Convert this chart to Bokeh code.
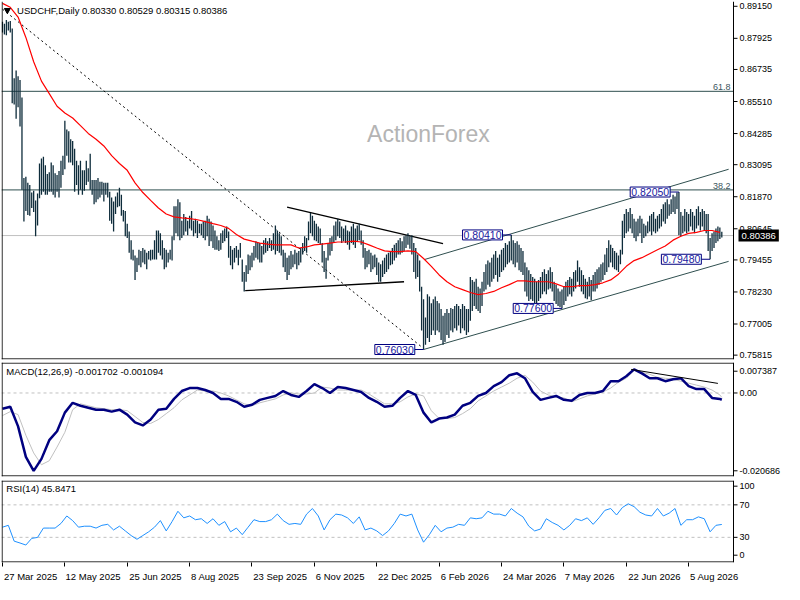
from bokeh.plotting import figure
from bokeh.models import Range1d, FixedTicker, Label, Span
from bokeh.layouts import column
from bokeh.embed import file_html
from bokeh.resources import INLINE
from bokeh.core.properties import value

# ---------------- data ----------------
SYMBOL_TEXT = "USDCHF,Daily  0.80330 0.80529 0.80315 0.80386"
LAST_CLOSE = 0.80386

HIGH = [
    .8856, .8848, .8863, .8856, .8859, .8830, .8640, .8670, .8648, .8633,
    .8566, .8259, .8263, .8240, .8232, .8203, .8210, .8173, .8199, .8314,
    .8333, .8340, .8307, .8274, .8281, .8318, .8307, .8277, .8270, .8285,
    .8325, .8344, .8477, .8444, .8437, .8407, .8400, .8370, .8325, .8307,
    .8325, .8288, .8288, .8325, .8296, .8351, .8251, .8251, .8251, .8259,
    .8244, .8244, .8240, .8240, .8240, .8206, .8184, .8169, .8188, .8203,
    .8221, .8195, .8136, .8132, .8084, .8054, .8021, .7984, .7962, .7954,
    .7984, .7980, .7991, .7984, .7973, .7980, .7984, .7984, .8021, .8058,
    .8058, .8047, .8021, .7991, .7984, .7973, .7984, .8036, .8151, .8151,
    .8177, .8166, .8095, .8121, .8110, .8095, .8114, .8132, .8095, .8103,
    .8095, .8084, .8084, .8092, .8095, .8114, .8103, .8092, .8077, .8058,
    .8036, .8021, .8047, .8058, .8066, .8073, .8054, .7999, .7984, .7991,
    .7999, .7984, .8010, .7947, .7899, .7925, .7966, .7962, .7973, .7999,
    .8017, .8010, .8010, .7999, .8021, .8029, .8017, .8029, .8021, .8047,
    .8077, .8058, .8047, .8036, .7984, .7973, .7954, .7962, .7980, .7966,
    .7984, .7973, .7980, .7991, .8010, .8036, .8029, .8092, .8125, .8114,
    .8095, .8084, .8073, .8066, .8010, .7980, .7954, .8010, .8029, .8036,
    .8077, .8092, .8103, .8092, .8073, .8066, .8077, .8058, .8054, .8073,
    .8084, .8066, .8077, .8084, .8058, .8021, .7991, .7980, .7984, .7973,
    .7962, .7966, .7954, .7936, .7929, .7943, .7954, .7966, .7973, .7980,
    .7991, .8003, .8010, .8021, .8029, .8017, .8036, .8040, .8047, .8036,
    .8040, .8010, .7991, .7966, .7943, .7843, .7795, .7725, .7814, .7806,
    .7780, .7795, .7806, .7788, .7780, .7758, .7732, .7743, .7758, .7743,
    .7762, .7758, .7769, .7777, .7769, .7758, .7777, .7769, .7758, .7758,
    .7880, .7869, .7862, .7873, .7843, .7836, .7862, .7899, .7929, .7943,
    .7936, .7954, .7966, .7980, .7954, .7966, .7984, .7991, .8010, .8003,
    .8017, .8041, .8021, .8010, .8017, .8003, .7991, .7980, .7936, .7917,
    .7906, .7892, .7880, .7873, .7862, .7869, .7880, .7899, .7910, .7892,
    .7906, .7917, .7899, .7862, .7851, .7836, .7825, .7832, .7843, .7862,
    .7869, .7880, .7873, .7899, .7906, .7943, .7917, .7906, .7888, .7873,
    .7862, .7880, .7869, .7888, .7899, .7910, .7917, .7929, .7936, .7966,
    .7991, .8021, .8003, .7991, .7980, .7973, .7962, .7984, .8095, .8121,
    .8140, .8129, .8144, .8121, .8103, .8092, .8103, .8114, .8103, .8084,
    .8077, .8092, .8114, .8121, .8129, .8103, .8114, .8121, .8140, .8158,
    .8166, .8177, .8158, .8177, .8195, .8188, .8203, .8205, .8129, .8114,
    .8140, .8129, .8121, .8140, .8129, .8114, .8140, .8151, .8129, .8140,
    .8132, .8121, .8121, .8029, .8047, .8054, .8066, .8073, .8069, .80529,
]

LOW = [
    .8815, .8807, .8804, .8822, .8815, .8544, .8540, .8485, .8529, .8455,
    .8214, .8092, .8132, .8117, .8114, .8144, .8129, .8036, .8077, .8181,
    .8195, .8206, .8195, .8195, .8206, .8206, .8195, .8184, .8206, .8184,
    .8221, .8270, .8292, .8344, .8318, .8318, .8307, .8206, .8232, .8195,
    .8214, .8195, .8210, .8232, .8244, .8214, .8195, .8158, .8166, .8177,
    .8184, .8195, .8169, .8195, .8184, .8095, .8084, .8054, .8121, .8147,
    .8151, .8114, .8092, .8036, .8029, .7973, .7947, .7943, .7869, .7899,
    .7925, .7917, .7936, .7929, .7910, .7947, .7943, .7947, .7947, .7947,
    .7973, .7962, .7947, .7910, .7917, .7936, .7947, .7943, .8021, .8047,
    .8036, .8021, .8029, .8040, .8054, .8040, .8066, .8058, .8036, .8047,
    .8029, .8047, .8040, .8029, .8021, .8036, .7999, .8017, .7991, .7984,
    .7984, .7980, .7984, .8010, .8017, .8029, .7954, .7925, .7910, .7936,
    .7954, .7925, .7954, .7862, .7825, .7862, .7892, .7906, .7917, .7943,
    .7954, .7947, .7936, .7936, .7966, .7973, .7980, .7991, .7980, .7984,
    .7966, .7980, .7973, .7962, .7917, .7899, .7869, .7888, .7910, .7917,
    .7929, .7910, .7925, .7936, .7966, .7980, .7973, .8021, .8047, .8036,
    .8021, .8017, .8010, .8003, .7936, .7899, .7873, .7943, .7962, .7980,
    .8010, .8021, .8036, .8029, .8010, .8017, .8010, .8003, .7984, .8010,
    .8003, .7991, .8017, .8021, .8003, .7954, .7910, .7917, .7929, .7899,
    .7910, .7917, .7888, .7862, .7862, .7880, .7892, .7899, .7910, .7925,
    .7929, .7943, .7954, .7966, .7966, .7973, .7980, .7991, .8003, .7988,
    .7966, .7899, .7873, .7880, .7825, .7676, .7603, .7621, .7647, .7632,
    .7658, .7676, .7658, .7676, .7669, .7639, .7621, .7632, .7658, .7647,
    .7676, .7669, .7684, .7676, .7695, .7665, .7684, .7676, .7658, .7669,
    .7713, .7750, .7769, .7758, .7750, .7743, .7769, .7825, .7832, .7851,
    .7843, .7862, .7873, .7888, .7862, .7880, .7899, .7906, .7917, .7929,
    .7936, .7943, .7929, .7917, .7936, .7906, .7899, .7888, .7825, .7806,
    .7788, .7795, .7788, .7780, .7777, .7788, .7799, .7814, .7825, .7814,
    .7832, .7836, .7825, .7788, .7777, .7769, .7765, .7760, .7773, .7788,
    .7806, .7814, .7806, .7825, .7836, .7862, .7843, .7825, .7814, .7799,
    .7795, .7806, .7791, .7825, .7825, .7836, .7851, .7862, .7869, .7888,
    .7899, .7917, .7936, .7917, .7910, .7906, .7899, .7929, .7966, .8029,
    .8047, .8054, .8066, .8047, .8029, .8017, .8036, .8047, .8010, .8029,
    .8036, .8047, .8054, .8040, .8054, .8047, .8054, .8066, .8073, .8092,
    .8084, .8103, .8114, .8121, .8129, .8121, .8140, .8040, .8036, .8047,
    .8054, .8047, .8054, .8073, .8058, .8047, .8066, .8077, .8058, .8073,
    .8058, .8047, .7980, .7948, .7980, .7991, .8010, .8017, .8025, .80315,
]

# moving average, one value every 4 bars
MA = [
    .8926, .8911, .8874, .8796, .8703, .8629, .8581, .8533, .8507, .8488,
    .8459, .8429, .8407, .8381, .8344, .8314, .8288, .8240, .8203, .8173,
    .8144, .8121, .8110, .8106, .8103, .8099, .8092, .8084, .8077, .8066,
    .8043, .8025, .8017, .8010, .8006, .8003, .8003, .8003, .7991, .7995,
    .8003, .8006, .8010, .8014, .8014, .8017, .8014, .8003, .7991, .7980,
    .7977, .7977, .7980, .7977, .7951, .7921, .7888, .7862, .7843, .7832,
    .7821, .7813, .7817, .7825, .7839, .7851, .7865, .7865, .7862, .7862,
    .7862, .7854, .7843, .7843, .7847, .7847, .7851, .7858, .7869, .7891,
    .7921, .7943, .7954, .7969, .7984, .7999, .8021, .8036, .8047, .8051,
    .8058, .8058, .8051,
]

# MACD(12,26,9): main and signal, one value every 4 bars plus the last bar
MACD_MAIN = [
    -0.00394, -0.00344, -0.00836, -0.01599, -0.01950, -0.01650, -0.01181, -0.00959, -0.00492, -0.00246,
    -0.00320, -0.00369, -0.00418, -0.00418, -0.00467, -0.00418, -0.00541, -0.00738, -0.00812, -0.00664,
    -0.00418, -0.00394, -0.00148, 0.00049, 0.00123, 0.00123, 0.00074, 0.00000, -0.00148, -0.00148,
    -0.00221, -0.00344, -0.00295, -0.00172, -0.00123, -0.00074, 0.00049, -0.00049, -0.00098, 0.00049,
    0.00221, 0.00123, 0.00000, 0.00148, 0.00123, 0.00074, 0.00025, -0.00123, -0.00221, -0.00344,
    -0.00320, -0.00123, 0.00049, -0.00049, -0.00492, -0.00738, -0.00640, -0.00615, -0.00541, -0.00320,
    -0.00246, -0.00074, 0.00000, 0.00172, 0.00271, 0.00443, 0.00492, 0.00369, 0.00025, -0.00172,
    -0.00123, -0.00074, -0.00172, -0.00197, -0.00049, 0.00000, 0.00000, 0.00049, 0.00295, 0.00295,
    0.00418, 0.00590, 0.00492, 0.00369, 0.00369, 0.00295, 0.00344, 0.00369, 0.00172, 0.00098,
    0.00098, -0.00123, -0.00150, -0.001702,
]
MACD_SIGNAL = [
    -0.00566, -0.00467, -0.00541, -0.01058, -0.01501, -0.01796, -0.01697, -0.01353, -0.00984, -0.00418,
    -0.00271, -0.00320, -0.00369, -0.00394, -0.00418, -0.00418, -0.00443, -0.00590, -0.00738, -0.00763,
    -0.00664, -0.00517, -0.00369, -0.00172, -0.00049, 0.00074, 0.00049, 0.00049, 0.00000, -0.00074,
    -0.00172, -0.00271, -0.00320, -0.00246, -0.00197, -0.00148, -0.00049, 0.00000, -0.00025, -0.00025,
    0.00000, 0.00148, 0.00123, 0.00074, 0.00074, 0.00074, 0.00074, -0.00025, -0.00148, -0.00271,
    -0.00271, -0.00221, -0.00098, -0.00025, -0.00074, -0.00443, -0.00640, -0.00640, -0.00615, -0.00517,
    -0.00394, -0.00197, -0.00074, 0.00049, 0.00148, 0.00246, 0.00369, 0.00443, 0.00271, 0.00049,
    -0.00049, -0.00098, -0.00123, -0.00221, -0.00148, -0.00074, -0.00025, 0.00025, 0.00123, 0.00271,
    0.00369, 0.00566, 0.00517, 0.00467, 0.00394, 0.00369, 0.00344, 0.00295, 0.00246, 0.00197,
    0.00148, 0.00074, -0.00049, -0.001094,
]

# RSI(14), one value every 3 bars
RSI = [
    42.5, 44.8, 25.3, 23.0, 20.5, 28.7, 29.9, 41.4, 41.4, 41.4,
    47.1, 56.3, 50.6, 42.5, 43.7, 43.7, 41.4, 44.8, 46.0, 39.1,
    43.7, 37.9, 32.2, 27.6, 32.2, 36.8, 42.5, 50.6, 37.9, 49.4,
    62.1, 54.0, 56.3, 51.7, 52.9, 47.1, 52.9, 44.8, 49.4, 36.8,
    41.4, 33.3, 42.5, 51.7, 49.4, 49.4, 51.7, 58.6, 50.6, 46.0,
    47.1, 46.0, 58.6, 65.5, 56.3, 39.1, 51.7, 58.6, 57.5, 54.0,
    47.1, 55.2, 39.1, 41.4, 37.9, 32.2, 37.9, 47.1, 58.6, 56.3,
    58.6, 39.1, 24.0, 33.3, 44.8, 36.8, 41.4, 42.5, 46.0, 44.8,
    54.0, 52.9, 54.0, 62.1, 58.6, 58.6, 56.3, 65.5, 59.8, 55.2,
    43.7, 37.9, 40.2, 52.9, 48.3, 44.8, 39.1, 44.8, 52.9, 50.6,
    54.0, 46.0, 54.0, 63.2, 65.5, 57.5, 66.7, 71.3, 67.8, 60.9,
    57.5, 56.3, 65.5, 56.3, 59.8, 65.5, 44.8, 51.7, 51.7, 55.2,
    52.9, 36.8, 44.8, 45.8471,
]

DATE_LABELS = ["27 Mar 2025", "12 May 2025", "25 Jun 2025", "8 Aug 2025",
               "23 Sep 2025", "6 Nov 2025", "22 Dec 2025", "6 Feb 2026",
               "24 Mar 2026", "7 May 2026", "22 Jun 2026", "5 Aug 2026"]
DATE_IDX = [0, 32, 64, 96, 128, 160, 192, 224, 256, 288, 320, 352]

PRICE_TICKS = [0.89150, 0.87925, 0.86735, 0.85510, 0.84285, 0.83095,
               0.81870, 0.80645, 0.79455, 0.78230, 0.77005, 0.75815]
MACD_TICKS = [0.00545, 0.0, -0.01948]
MACD_TICK_TEXT = ["0.007387", "0.00", "-0.020686"]
RSI_TICKS = [93, 70, 30, 8]
RSI_TICK_TEXT = ["100", "70", "30", "0"]

FIB_HIGH = 0.9200
FIB_LOW = 0.7603
FIB_RATIOS = [0.382, 0.618]
FIB_TEXT = ["38.2", "61.8"]

SWING_IDX = [216, 261, 287, 347, 363]
SWING_PRICE = [0.7603, 0.8041, 0.7760, 0.8205, 0.7948]
SWING_TEXT = ["0.76030", "0.80410", "0.77600", "0.82050", "0.79480"]

# trend lines: (bar index start, bar index end), (value start, value end)
DOTTED_X, DOTTED_Y = [0, 215.5], [0.8904, 0.7610]
TRI_UP_X, TRI_UP_Y = [146, 226], [0.8147, 0.8008]
TRI_LO_X, TRI_LO_Y = [124.5, 206], [0.7828, 0.7862]
CH_LO_X, CH_LO_Y = [216, 372.5], [0.7603, 0.7940]
CH_UP_X, CH_UP_Y = [216.5, 372.5], [0.7947, 0.8292]
MACD_TL_X, MACD_TL_Y = [322.5, 367], [0.0059, 0.0024]

# ---------------- layout / style ----------------
FONT = "Liberation Sans"
BAR_COLOR = "#0e2c3b"
SLATE = "#2f4f4f"
W = 784
SCALE_W = 50                       # price-scale column, inside each frame
X0, X1 = -0.5, 375.0               # chart area in bar units
FRAME_W = W - 2
PX = (FRAME_W - SCALE_W) / (X1 - X0)   # pixels per bar
XR = Range1d(X0, X0 + FRAME_W / PX)
SCALE_FONT = "9px"

N = len(HIGH)
IDX = list(range(N))
MA_X = list(range(0, N, 4))
MACD_X = list(range(0, N, 4)) + [N - 1]
RSI_X = list(range(0, N, 3))


def make_fig(height, y0, y1, bottom, show_x):
    p = figure(width=W, height=height, x_range=XR, y_range=Range1d(y0, y1),
               output_backend="svg", toolbar_location=None,
               y_axis_location=None,
               x_axis_location="below" if show_x else None,
               min_border_left=1, min_border_right=1,
               min_border_top=1, min_border_bottom=bottom)
    p.grid.visible = False
    p.outline_line_color = None
    p.background_fill_color = "white"
    p.border_fill_color = "white"
    return p


def panel_border(p, y0, y1, frame_h, top=True):
    dy = (y1 - y0) / frame_h
    p.add_layout(Span(location=X1, dimension="height", line_color="black", line_width=1))
    p.add_layout(Span(location=X0 + 0.6 / PX, dimension="height", line_color="black", line_width=1))
    ys = [y0 + 0.6 * dy] + ([y1 - 0.6 * dy] if top else [])
    p.segment(x0=[X0] * len(ys), y0=ys, x1=[X1] * len(ys), y1=ys, line_color="black", line_width=1)


def value_scale(p, ticks, labels):
    n = len(ticks)
    p.segment(x0=[X1] * n, y0=ticks, x1=[X1 + 4 / PX] * n, y1=ticks,
              line_color="black", line_width=1)
    p.text(x=[X1 + 6 / PX] * n, y=ticks, text=labels,
           text_font=value(FONT), text_font_size=SCALE_FONT, text_color="black",
           text_align="left", text_baseline="middle")


# ---- main price panel ----
Y0, Y1 = 0.75648, 0.89333
p1 = make_fig(361, Y0, Y1, 2, False)
panel_border(p1, Y0, Y1, 358.0, top=False)
value_scale(p1, PRICE_TICKS, [f"{t:.5f}" for t in PRICE_TICKS])

for r, t in zip(FIB_RATIOS, FIB_TEXT):
    lvl = FIB_LOW + r * (FIB_HIGH - FIB_LOW)
    p1.segment(x0=[X0], y0=[lvl], x1=[X1], y1=[lvl], line_color=SLATE, line_width=1)
    p1.add_layout(Label(x=373.5, y=lvl, text=t, text_align="right", text_baseline="bottom",
                        y_offset=1, text_font=FONT, text_font_size="9px", text_color="#3c5560"))

p1.segment(x0=[X0], y0=[LAST_CLOSE], x1=[X1], y1=[LAST_CLOSE], line_color="#c0c0c0", line_width=1)

p1.add_layout(Label(x=218.5, y=0.8425, text="ActionForex", text_align="center",
                    text_baseline="middle", text_font=FONT, text_font_size="23px",
                    text_color="#b4b4b4"))

p1.line(DOTTED_X, DOTTED_Y, line_color="black", line_width=1, line_dash="2 3")
p1.line(TRI_UP_X, TRI_UP_Y, line_color="black", line_width=1.3)
p1.line(TRI_LO_X, TRI_LO_Y, line_color="black", line_width=1.3)
p1.line(CH_LO_X, CH_LO_Y, line_color=SLATE, line_width=1)
p1.line(CH_UP_X, CH_UP_Y, line_color=SLATE, line_width=1)

p1.segment(x0=IDX, y0=LOW, x1=IDX, y1=HIGH, line_color=BAR_COLOR, line_width=1.3)
p1.line(MA_X, MA, line_color="#ff0000", line_width=1.2)

for i, pr, t in zip(SWING_IDX, SWING_PRICE, SWING_TEXT):
    p1.segment(x0=[i - 4.5], y0=[pr], x1=[i], y1=[pr], line_color="#000080", line_width=1)
    p1.add_layout(Label(x=i - 4.5, y=pr, text=t, text_align="right", text_baseline="middle",
                        text_font=FONT, text_font_size="10.5px", text_color="#2020a0",
                        border_line_color="#000080", border_line_width=1,
                        background_fill_color="white", padding=1))

p1.scatter([2.5], [0.8900], marker="inverted_triangle", size=6, color="black")
p1.add_layout(Label(x=7.5, y=0.8900, text=SYMBOL_TEXT, text_align="left",
                    text_baseline="middle", text_font=FONT, text_font_size="9.5px",
                    text_color="black"))

p1.add_layout(Label(x=X1 + 5 / PX, y=LAST_CLOSE, text=f"{LAST_CLOSE:.5f}", text_align="left",
                    text_baseline="middle", text_font=FONT, text_font_size="9.5px",
                    text_color="white", background_fill_color="black", padding=3))

# ---- MACD panel ----
M0, M1 = -0.02091, 0.00763
p2 = make_fig(118, M0, M1, 3, False)
panel_border(p2, M0, M1, 114.0)
value_scale(p2, MACD_TICKS, MACD_TICK_TEXT)
p2.segment(x0=[X0], y0=[0], x1=[X1], y1=[0], line_color="#c0c0c0", line_width=1, line_dash="3 3")
p2.line(MACD_X, MACD_SIGNAL, line_color="#c0c0c0", line_width=1)
p2.line(MACD_X, MACD_MAIN, line_color="#000080", line_width=2.5)
p2.line(MACD_TL_X, MACD_TL_Y, line_color="black", line_width=1)
p2.add_layout(Label(x=2, y=0.0054, text="MACD(12,26,9) -0.001702 -0.001094",
                    text_align="left", text_baseline="middle", text_font=FONT,
                    text_font_size="9.5px", text_color="black"))

# ---- RSI panel ----
R0, R1 = -1, 100
p3 = make_fig(105, R0, R1, 18, True)
panel_border(p3, R0, R1, 86.0)
value_scale(p3, RSI_TICKS, RSI_TICK_TEXT)
p3.segment(x0=[X0, X0], y0=[70, 30], x1=[X1, X1], y1=[70, 30], line_color="#c0c0c0",
           line_width=1, line_dash="3 3")
p3.line(RSI_X, RSI, line_color="#1e90ff", line_width=1)
p3.add_layout(Label(x=2, y=89.7, text="RSI(14) 45.8471", text_align="left",
                    text_baseline="middle", text_font=FONT, text_font_size="9.5px",
                    text_color="black"))

# date labels: left-aligned after each tick mark (label centred half its width to the right)
label_pos = [round(i + (4.85 * len(t) / 2 + 1.5) / PX, 3) for i, t in zip(DATE_IDX, DATE_LABELS)]
xa = p3.xaxis[0]
xa.ticker = FixedTicker(ticks=label_pos, minor_ticks=DATE_IDX)
xa.major_label_overrides = {pos: t for pos, t in zip(label_pos, DATE_LABELS)}
xa.axis_line_color = None
xa.major_tick_line_color = None
xa.major_tick_out = 0
xa.major_tick_in = 0
xa.minor_tick_line_color = "black"
xa.minor_tick_out = 4
xa.minor_tick_in = 0
xa.major_label_standoff = 4
xa.major_label_text_font = FONT
xa.major_label_text_font_size = "9.5px"
xa.major_label_text_color = "black"

layout = column(p1, p2, p3, spacing=0)
open("out.html", "w").write(file_html(layout, INLINE))
